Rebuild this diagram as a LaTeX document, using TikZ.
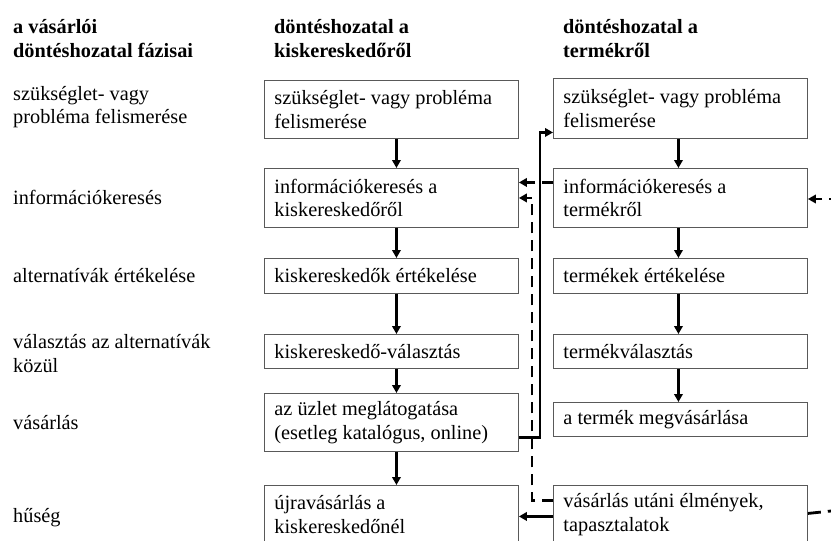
\documentclass[tikz,border=0pt]{standalone}
\usepackage{fontspec}
\setmainfont{Liberation Serif}
\usetikzlibrary{arrows.meta}
\begin{document}
\begin{tikzpicture}[x=1pt,y=-1pt,
  every node/.style={font=\fontsize{20.3}{23.5}\selectfont},
  lbl/.style={anchor=base west, inner sep=0pt},
  hdr/.style={anchor=base west, inner sep=0pt, font=\fontsize{20.3}{23.5}\selectfont\bfseries},
  box/.style={draw=black!65, line width=0.9pt, text width=234pt, inner xsep=10pt, inner ysep=0pt, align=flush left, anchor=north west},
  flow/.style={line width=2.8pt, -{Triangle[length=8pt,width=8.5pt]}},
  dflow/.style={line width=2.8pt, dash pattern=on 11pt off 7pt, -{Triangle[length=8pt,width=8.5pt]}},
  dline/.style={line width=2.8pt, dash pattern=on 13pt off 7pt}]
\useasboundingbox (0,0) rectangle (831,541);
% headers
\node[hdr] (h1a) at (13,33) {a vásárlói};
\node[hdr] (h1b) at (13,57) {döntéshozatal fázisai};
\node[hdr] (h2a) at (274,33) {döntéshozatal a};
\node[hdr] (h2b) at (274,57) {kiskereskedőről};
\node[hdr] (h3a) at (563,33) {döntéshozatal a};
\node[hdr] (h3b) at (563,57) {termékről};
% phase labels
\node[lbl] (p1a) at (13,100) {szükséglet- vagy};
\node[lbl] (p1b) at (13,123.5) {probléma felismerése};
\node[lbl] (p2) at (13,204) {információkeresés};
\node[lbl] (p3) at (13,282) {alternatívák értékelése};
\node[lbl] (p4a) at (13,348) {választás az alternatívák};
\node[lbl] (p4b) at (13,372) {közül};
\node[lbl] (p5) at (13,429) {vásárlás};
\node[lbl] (p6) at (13,522) {hűség};
% retailer column
\node[box, minimum height=58pt] (k1) at (264,80) {szükséglet- vagy probléma\\felismerése};
\node[box, minimum height=59pt] (k2) at (264,168) {információkeresés a\\kiskereskedőről};
\node[box, minimum height=35pt] (k3) at (264,258) {kiskereskedők értékelése};
\node[box, minimum height=34pt] (k4) at (264,334) {kiskereskedő-választás};
\node[box, minimum height=58pt] (k5) at (264,393) {az üzlet meglátogatása\\(esetleg katalógus, online)};
\node[box, minimum height=58pt] (k6) at (264,485) {újravásárlás a\\kiskereskedőnél};
% product column
\node[box, minimum height=60pt] (t1) at (553,78) {szükséglet- vagy probléma\\felismerése};
\node[box, minimum height=59pt] (t2) at (553,168) {információkeresés a\\termékről};
\node[box, minimum height=35pt] (t3) at (553,258) {termékek értékelése};
\node[box, minimum height=34pt] (t4) at (553,334) {termékválasztás};
\node[box, minimum height=34pt] (t5) at (553,402) {a termék megvásárlása};
\node[box, minimum height=58pt] (t6) at (553,485) {vásárlás utáni élmények,\\tapasztalatok};
% vertical arrows
\foreach \a/\b in {k1/k2,k2/k3,k3/k4,k4/k5,k5/k6}
  \draw[flow] ([xshift=5pt]\a.south) -- ([xshift=5pt]\b.north);
\foreach \a/\b in {t1/t2,t2/t3,t3/t4,t4/t5}
  \draw[flow] ([xshift=-2pt]\a.south) -- ([xshift=-2pt]\b.north);
% anchor points for cross connectors
\coordinate (k5o) at ([yshift=-15pt]k5.east);
\coordinate (t1i) at ([yshift=-24pt]t1.west);
\coordinate (t2o) at ([yshift=15.5pt]t2.west);
\coordinate (k2i) at ([yshift=15.5pt]k2.east);
\coordinate (t6d) at ([yshift=14pt]t6.west);
\coordinate (t6s) at ([yshift=-2pt]t6.west);
\coordinate (k6i) at ([yshift=-2pt]k6.east);
\coordinate (t6r) at ([yshift=1pt]t6.east);
\coordinate (sx) at (540,0);
\coordinate (dx) at (532,0);
\coordinate (rin) at (840,199);
\coordinate (rout) at (850,509);
% cross connectors
\draw[flow] (k5o) -| (sx |- t1i) -- (t1i);
\draw[dflow] (t2o) -- (k2i);
\draw[dflow] (t6d) -- (t6d -| dx) -- (dx |- k2.east) -- (k2.east);
\draw[flow] (t6s) -- (k6i);
\draw[dflow] (rin) -- (t2.east |- rin);
\draw[dline] (t6r) -- (rout);
\end{tikzpicture}
\end{document}
